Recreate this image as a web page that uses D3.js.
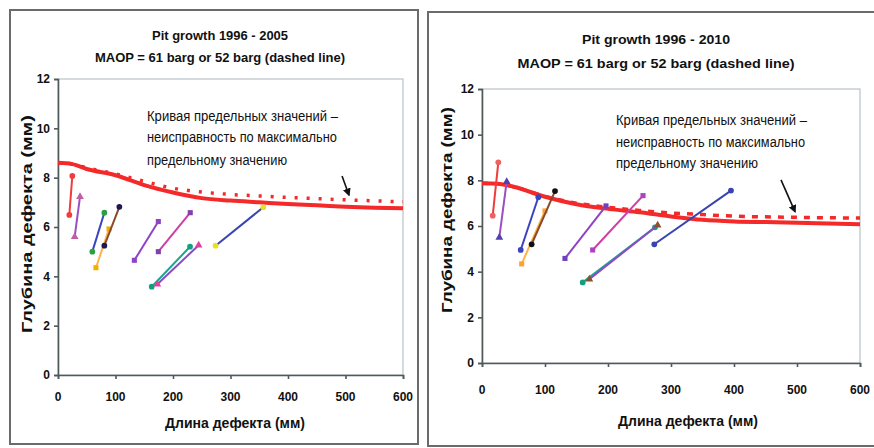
<!DOCTYPE html>
<html>
<head>
<meta charset="utf-8">
<script src="https://cdn.jsdelivr.net/npm/d3@7"></script>
<style>
  body { margin: 0; background: #fff; }
  text { font-family: "Liberation Sans", Arial, sans-serif; fill: #111; }
</style>
</head>
<body>
<script>
const width = 874;
const height = 448;

// values
const xTicks = [0, 100, 200, 300, 400, 500, 600];
const yTicks = [0, 2, 4, 6, 8, 10, 12];
const limitX = [0, 25, 50, 100, 150, 200, 250, 300, 350, 400, 450, 500, 550, 600];

const limit2005Solid  = [8.6, 8.55, 8.35, 8.1, 7.7, 7.4, 7.17, 7.07, 7.0, 6.93, 6.88, 6.82, 6.78, 6.76];
const limit2005Dashed = [8.6, 8.55, 8.4, 8.15, 7.85, 7.57, 7.42, 7.32, 7.26, 7.2, 7.15, 7.1, 7.06, 7.02];
const limit2010Solid  = [7.87, 7.85, 7.72, 7.28, 6.95, 6.75, 6.6, 6.42, 6.27, 6.2, 6.17, 6.14, 6.11, 6.08];
const limit2010Dashed = [7.87, 7.85, 7.72, 7.3, 7.0, 6.82, 6.68, 6.57, 6.5, 6.43, 6.4, 6.38, 6.36, 6.35];

// pits: [length, depth] at start and end of period
const pits2005 = [
  [[19.7, 6.49], [24.9, 8.07]],
  [[29, 5.6], [38.3, 7.23]],
  [[59.7, 5.0], [80.6, 6.58]],
  [[66, 4.35], [88.7, 5.92]],
  [[80.6, 5.24], [106.7, 6.82]],
  [[132.8, 4.65], [174.5, 6.22]],
  [[174.5, 5.0], [230, 6.58]],
  [[163, 3.58], [229.6, 5.2]],
  [[172.7, 3.68], [244.6, 5.26]],
  [[274, 5.24], [357, 6.8]]
];
const pits2010 = [
  [[17, 6.45], [25.9, 8.79]],
  [[27.5, 5.5], [39.2, 7.94]],
  [[61.4, 4.95], [89.4, 7.26]],
  [[63, 4.34], [100, 6.66]],
  [[78.8, 5.2], [115.9, 7.53]],
  [[131.7, 4.58], [196.8, 6.88]],
  [[175.7, 4.95], [255.6, 7.33]],
  [[159.8, 3.53], [274.6, 5.94]],
  [[170.4, 3.67], [278.8, 6.03]],
  [[273.5, 5.2], [395.2, 7.55]]
];

const arrow2005 = [[494, 8.07], [506, 7.3]];
const arrow2010 = [[474.6, 8.02], [496.8, 6.63]];

const noteLines = ["Кривая предельных значений –", "неисправность по максимально", "предельному значению"];

// styles
const lineColors = ["#f03c3c", "#9b4fc0", "#3a44c0", "#ffb347", "#8a4a2a", "#8e44c8", "#cc3fa8", "#1aa68f", "#8a4cc4", "#3a44b0"];
const markColors2005 = ["#f03c3c", "#c060a0", "#2aa040", "#f0b000", "#1a1a50", "#8e44c8", "#8040b0", "#10a080", "#e040a0", "#e8e020"];
const markColors2010 = ["#f06060", "#5040b0", "#3a44c0", "#ffa030", "#101010", "#7040c0", "#b040c0", "#10a080", "#8a5030", "#3a44b0"];
const markShapes = [d3.symbolCircle, d3.symbolTriangle, d3.symbolCircle, d3.symbolSquare, d3.symbolCircle,
                    d3.symbolSquare, d3.symbolSquare, d3.symbolCircle, d3.symbolTriangle, d3.symbolCircle];

const panels = [
  {
    title: ["Pit growth 1996 - 2005", "MAOP = 61 barg or 52 barg (dashed line)"],
    titleLen: [136, 250], titleY: [40, 62], cx: 220,
    frame: [10, 10, 408, 434],
    plot: {left: 58, right: 403, top: 79, bottom: 375},
    solid: limit2005Solid, dashed: limit2005Dashed, dash: "3,9",
    pits: pits2005, marks: markColors2005, arrow: arrow2005,
    xLabY: 397, xTitle: [235, 428], yTitle: [27, 224, 218],
    note: [147, [121, 142, 165], [191, 190, 140]]
  },
  {
    title: ["Pit growth 1996 - 2010", "MAOP = 61 barg or 52 barg (dashed line)"],
    titleLen: [148, 277], titleY: [44, 68], cx: 656,
    frame: [428, 12, 452, 434],
    plot: {left: 482, right: 860, top: 89, bottom: 363},
    solid: limit2010Solid, dashed: limit2010Dashed, dash: "6,7",
    pits: pits2010, marks: markColors2010, arrow: arrow2010,
    xLabY: 390, xTitle: [688, 426], yTitle: [447, 210, 206],
    note: [616, [125, 147, 168], [191, 189, 142]]
  }
];

const svg = d3.select('body').append('svg').attr('width', width).attr('height', height);

svg.append('defs').append('marker')
  .attr('id', 'arrowHead').attr('viewBox', '0 0 10 10')
  .attr('refX', 8).attr('refY', 5).attr('markerWidth', 5).attr('markerHeight', 5)
  .attr('orient', 'auto')
  .append('path').attr('d', 'M0,0 L10,5 L0,10 z').attr('fill', '#111');

panels.forEach(function(p) {
  const g = svg.append('g');
  g.append('rect').attr('x', p.frame[0]).attr('y', p.frame[1])
    .attr('width', p.frame[2]).attr('height', p.frame[3])
    .attr('fill', '#fff').attr('stroke', '#6b6b6b').attr('stroke-width', 2);

  const x = d3.scaleLinear().domain([0, 600]).range([p.plot.left, p.plot.right]);
  const y = d3.scaleLinear().domain([0, 12]).range([p.plot.bottom, p.plot.top]);

  // plot area border
  g.append('rect').attr('x', p.plot.left).attr('y', p.plot.top)
    .attr('width', p.plot.right - p.plot.left).attr('height', p.plot.bottom - p.plot.top)
    .attr('fill', 'none').attr('stroke', '#b8c2c8').attr('stroke-width', 1.2);

  const xAxis = g.append('g').attr('transform', `translate(0,${p.plot.bottom})`)
    .call(d3.axisBottom(x).tickValues(xTicks).tickSize(4).tickFormat(''));
  const yAxis = g.append('g').attr('transform', `translate(${p.plot.left},0)`)
    .call(d3.axisLeft(y).tickValues(yTicks).tickSize(4).tickFormat(''));
  [xAxis, yAxis].forEach(a => {
    a.selectAll('path, line').attr('stroke', '#4f5a5a').attr('stroke-width', 1.6);
  });

  g.selectAll('.xl').data(xTicks).enter().append('text')
    .attr('x', d => x(d)).attr('y', p.xLabY).attr('text-anchor', 'middle')
    .attr('font-size', 12).attr('font-weight', 'bold').attr('dy', '0.35em')
    .text(d => d);
  g.selectAll('.yl').data(yTicks).enter().append('text')
    .attr('x', p.plot.left - 8).attr('y', d => y(d)).attr('text-anchor', 'end')
    .attr('font-size', 12).attr('font-weight', 'bold').attr('dy', '0.35em')
    .text(d => d);

  // titles
  p.title.forEach((t, i) => {
    g.append('text').attr('x', p.cx).attr('y', p.titleY[i]).attr('text-anchor', 'middle')
      .attr('font-size', 13).attr('font-weight', 'bold')
      .attr('textLength', p.titleLen[i]).attr('lengthAdjust', 'spacingAndGlyphs')
      .text(t);
  });
  g.append('text').attr('x', p.xTitle[0]).attr('y', p.xTitle[1]).attr('text-anchor', 'middle')
    .attr('font-size', 14).attr('font-weight', 'bold')
    .attr('textLength', 140).attr('lengthAdjust', 'spacingAndGlyphs')
    .text('Длина дефекта (мм)');
  g.append('text')
    .attr('transform', `translate(${p.yTitle[0]},${p.yTitle[1]}) rotate(-90)`)
    .attr('text-anchor', 'middle').attr('dy', '0.35em')
    .attr('font-size', 14).attr('font-weight', 'bold')
    .attr('textLength', p.yTitle[2]).attr('lengthAdjust', 'spacingAndGlyphs')
    .text('Глубина дефекта (мм)');

  // annotation
  noteLines.forEach((t, i) => {
    g.append('text').attr('x', p.note[0]).attr('y', p.note[1][i])
      .attr('font-size', 14)
      .attr('textLength', p.note[2][i]).attr('lengthAdjust', 'spacingAndGlyphs')
      .text(t);
  });

  // limit curves
  const line = d3.line().x(d => x(d[0])).y(d => y(d[1])).curve(d3.curveMonotoneX);
  g.append('path').datum(limitX.map((v, i) => [v, p.dashed[i]]))
    .attr('d', line).attr('fill', 'none').attr('stroke', '#f42a2a')
    .attr('stroke-width', 3.5).attr('stroke-dasharray', p.dash);
  g.append('path').datum(limitX.map((v, i) => [v, p.solid[i]]))
    .attr('d', line).attr('fill', 'none').attr('stroke', '#f42a2a').attr('stroke-width', 4);

  // pits
  const segLine = d3.line().x(d => x(d[0])).y(d => y(d[1]));
  p.pits.forEach((seg, i) => {
    g.append('path').datum(seg).attr('d', segLine).attr('fill', 'none')
      .attr('stroke', lineColors[i]).attr('stroke-width', 2);
    g.selectAll(null).data(seg).enter().append('path')
      .attr('transform', d => `translate(${x(d[0])},${y(d[1])})`)
      .attr('d', d3.symbol().type(markShapes[i]).size(26))
      .attr('fill', p.marks[i]);
  });

  // arrow
  g.append('line')
    .attr('x1', x(p.arrow[0][0])).attr('y1', y(p.arrow[0][1]))
    .attr('x2', x(p.arrow[1][0])).attr('y2', y(p.arrow[1][1]))
    .attr('stroke', '#111').attr('stroke-width', 1.6)
    .attr('marker-end', 'url(#arrowHead)');
});
</script>
</body>
</html>
